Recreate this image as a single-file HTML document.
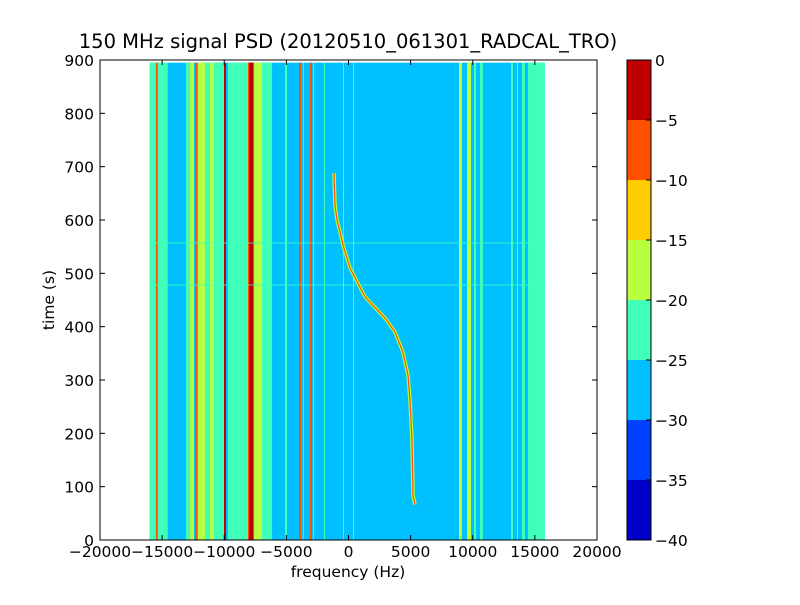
<!DOCTYPE html>
<html><head><meta charset="utf-8"><style>
body{margin:0;background:#fff;}
svg text{font-family:"DejaVu Sans","Liberation Sans",sans-serif;fill:#000;}
</style></head><body>
<svg id="c" width="800" height="600" viewBox="0 0 800 600" xmlns="http://www.w3.org/2000/svg">
<rect width="800" height="600" fill="#fff"/>
<text x="348" y="48" font-size="19.5" text-anchor="middle">150 MHz signal PSD (20120510_061301_RADCAL_TRO)</text>
<g id="plot"></g>
<g id="axes"></g>
<text x="348" y="577" font-size="15.5" text-anchor="middle">frequency (Hz)</text>
<text x="54" y="300" font-size="15.5" text-anchor="middle" transform="rotate(-90 54 300)">time (s)</text>
<g id="cbar"></g>
</svg>
<script>
const levelColors = ["#0000c8","#0040ff","#00c0ff","#40ffb8","#b8ff40","#ffcc00","#ff5000","#c00000"];
const levelBounds = [-40,-35,-30,-25,-20,-15,-10,-5,0];
const xTicks = [-20000,-15000,-10000,-5000,0,5000,10000,15000,20000];
const yTicks = [0,100,200,300,400,500,600,700,800,900];
const dataFreqRange = [-16000,15800];
const dataTimeMax = 895;
const stripeStart = [-16000,-15500,-13080,-12750,-12350,-12110,-11550,-11150,-10820,-10020,-9700,-8090,-8000,-7600,-6960,-5110,-3980,-3660,-3100,-2860,-1970,-440,360,8890,9540,10100,10580,13080,13560,13960,14450];
const stripeEnd   = [-14550,-15350,-12750,-12430,-12200,-11550,-11150,-10820,-10020,-9860,-8090,-7600,-7680,-6960,-6160,-4950,-3820,-3580,-2940,-2780,-1890,-360,440,9130,9860,10260,10820,13240,13640,14200,15800];
const stripeLevel = [3,6,3,4,6,4,3,4,3,7,3,6,7,4,3,3,6,3,6,3,3,3,3,4,4,3,3,3,3,3,3];
const curveTime = [688,628,600,578,553,510,456,416,390,352,309,262,188,84,66];
const curveFreq = [-1167,-1087,-925,-684,-443,121,1328,2938,3742,4386,4789,4950,5111,5192,5352];
const hLineTimes = [478,557];

const L=100,R=597,T=60,B=540;
const X=f=>L+(f+20000)/40000*(R-L);
const Y=t=>B-t/900*(B-T);
const NS="http://www.w3.org/2000/svg";
const fmt=v=>v<0?'\u2212'+(-v):String(v);
function mk(tag,attrs,parent){const e=document.createElementNS(NS,tag);for(const k in attrs)e.setAttribute(k,attrs[k]);parent.appendChild(e);return e;}
const plot=document.getElementById('plot'),axes=document.getElementById('axes'),cb=document.getElementById('cbar');
let bg=mk('rect',{x:X(dataFreqRange[0]),y:Y(dataTimeMax),width:X(dataFreqRange[1])-X(dataFreqRange[0]),height:Y(0)-Y(dataTimeMax),fill:levelColors[2]},plot);


stripeStart.forEach((s,i)=>{
  const r=mk('rect',{x:X(s),y:Y(dataTimeMax),width:Math.max(1,X(stripeEnd[i])-X(s)),height:Y(0)-Y(dataTimeMax),fill:levelColors[stripeLevel[i]]},plot);
  
  
});
hLineTimes.forEach(t=>{
  const r=mk('rect',{x:X(dataFreqRange[0]),y:Y(t)-1,width:X(dataFreqRange[1])-X(dataFreqRange[0]),height:2,fill:levelColors[3],opacity:0.4},plot);
  
  
});
const pts=curveTime.map((t,i)=>X(curveFreq[i])+','+Y(t)).join(' ');
let c1=mk('polyline',{points:pts,fill:'none',stroke:levelColors[4],'stroke-width':3.5},plot);


let c2=mk('polyline',{points:pts,fill:'none',stroke:levelColors[6],'stroke-width':1.2},plot);


let fr=mk('rect',{x:L,y:T,width:R-L,height:B-T,fill:'none',stroke:'#000','stroke-width':1},axes);


xTicks.forEach(v=>{
  const x=X(v);
  mk('line',{x1:x,y1:B,x2:x,y2:B-5,stroke:'#000'},axes);
  mk('line',{x1:x,y1:T,x2:x,y2:T+5,stroke:'#000'},axes);
  const t=mk('text',{x:x,y:B+17,'font-size':15.5,'text-anchor':'middle'},axes);t.textContent=fmt(v);
  
  
});
yTicks.forEach(v=>{
  const y=Y(v);
  mk('line',{x1:L,y1:y,x2:L+5,y2:y,stroke:'#000'},axes);
  mk('line',{x1:R,y1:y,x2:R-5,y2:y,stroke:'#000'},axes);
  const t=mk('text',{x:L-6,y:y+6,'font-size':15.5,'text-anchor':'end'},axes);t.textContent=fmt(v);
  
  
});
const CL=627,CR=651,n=levelColors.length,h=(B-T)/n;
levelColors.forEach((col,i)=>{
  const r=mk('rect',{x:CL,y:B-(i+1)*h,width:CR-CL,height:h,fill:col},cb);
  
  
});
mk('rect',{x:CL,y:T,width:CR-CL,height:B-T,fill:'none',stroke:'#000'},cb);
levelBounds.forEach((v,i)=>{
  const y=B-i*h;
  mk('line',{x1:CR,y1:y,x2:CR-5,y2:y,stroke:'#000'},cb);
  const t=mk('text',{x:CR+4,y:y+6,'font-size':15.5},cb);t.textContent=fmt(v);
  
  
});
</script>
</body></html>
